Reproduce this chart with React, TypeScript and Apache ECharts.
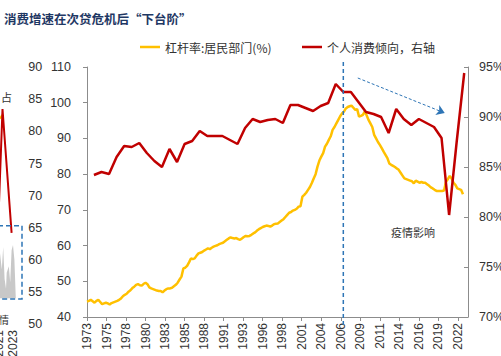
import React, { useEffect, useRef } from "react";
import * as echarts from "echarts";

// ---------- main chart data ----------
const START_YEAR = 1973;
const MONTH_COUNT = 606; // 1973-01 .. 2023-06
const months: string[] = Array.from({ length: MONTH_COUNT }, (_, i) =>
  `${START_YEAR + Math.floor(i / 12)}-${String((i % 12) + 1).padStart(2, "0")}`
);

// 杠杆率:居民部门(%) quarterly, 1973Q1 .. 2022Q4
const leverage: number[] = [
  44.3, 44.5, 44.8, 44.4, 44.0, 44.5, 44.8, 44.2, 43.6, 43.8, 44.0, 43.8,
  43.5, 43.9, 44.1, 44.3, 44.5, 44.8, 45.2, 45.8, 46.2, 46.5, 47.1, 47.5,
  48.1, 48.5, 49.0, 49.2, 48.9, 48.8, 49.3, 49.6, 49.2, 48.3, 48.0, 47.8,
  47.6, 47.4, 47.3, 47.3, 46.9, 47.4, 47.8, 48.0, 48.0, 48.2, 48.6, 49.0,
  49.6, 50.5, 51.3, 53.6, 53.8, 54.3, 55.3, 56.4, 56.2, 56.4, 57.2, 57.8,
  58.0, 58.2, 58.6, 58.9, 59.2, 59.0, 59.4, 59.7, 59.9, 60.1, 60.4, 60.6,
  60.8, 61.2, 61.6, 62.0, 62.3, 62.1, 62.0, 62.1, 61.8, 61.6, 62.0, 62.4,
  62.7, 62.6, 62.7, 63.0, 63.4, 63.7, 64.2, 64.6, 64.9, 65.2, 65.4, 65.6,
  65.5, 65.3, 65.6, 66.0, 66.1, 66.2, 66.6, 67.0, 67.4, 68.0, 68.6, 69.2,
  69.4, 69.8, 70.0, 70.3, 70.9, 71.0, 73.7, 74.2, 74.8, 75.6, 76.4, 77.5,
  78.8, 80.0, 82.1, 83.8, 84.9, 85.9, 87.7, 88.5, 89.6, 90.6, 92.4, 93.2,
  94.2, 95.2, 96.2, 97.0, 97.5, 98.4, 98.8, 99.0, 99.2, 98.6, 98.0, 98.2,
  96.1, 96.3, 96.6, 97.5, 96.5, 95.2, 94.2, 93.2, 91.0, 90.0, 89.0, 88.2,
  87.3, 86.3, 85.4, 84.5, 83.0, 82.6, 82.3, 82.0, 81.6, 81.2, 80.4, 79.6,
  78.8, 78.6, 78.4, 78.2, 78.0, 77.4, 78.2, 77.9, 77.6, 77.8, 77.6, 77.6,
  77.2, 76.8, 76.3, 76.0, 75.6, 75.3, 75.3, 75.3, 75.3, 75.4, 77.9, 78.6,
  79.5, 78.8, 77.6, 77.0, 76.0, 75.8, 75.6, 74.4,
];

// 个人消费倾向 (%), annual 1973 .. 2022
const propensity: number[] = [
  84.2, 84.5, 84.3, 86.0, 87.1, 87.0, 87.4, 86.4, 85.6, 85.0,
  86.8, 85.5, 87.3, 87.6, 88.6, 88.1, 88.1, 88.1, 87.7, 87.3,
  88.9, 89.8, 89.5, 89.7, 89.8, 89.4, 91.2, 91.2, 90.9, 90.6,
  91.1, 91.4, 93.3, 92.5, 92.5, 91.5, 90.5, 90.3, 90.0, 88.4,
  90.8, 89.8, 89.2, 89.8, 89.4, 89.0, 87.9, 80.2, 87.5, 94.4,
];

const LEG_LEVERAGE = "杠杆率:居民部门(%)";
const LEG_PROPENSITY = "个人消费倾向，右轴";
const TITLE = "消费增速在次贷危机后“下台阶”";
const NOTE = "疫情影响";
const CRISIS_MONTH = "2006-12";
const ARROW_FROM: [string, number] = ["2008-11", 93.9];
const ARROW_TO: [string, number] = ["2020-05", 90.4];

// ---------- fragment of the neighbouring chart (left edge) ----------
const prevRedYears = [2020.7, 2021.5, 2022.8];
const prevRedValues = [60, 83.5, 64.2];
const prevYellowYears = [2021.1, 2021.5];
const prevYellowValues = [82.0, 82.6];
const prevAreaYears = [2020.3, 2020.6, 2020.9, 2021.1, 2021.4, 2021.6, 2021.8, 2022.0, 2022.1, 2022.4, 2022.6, 2022.8, 2023.0, 2023.2, 2023.4];
const prevAreaValues = [54, 59, 61, 61.5, 58.5, 62, 57, 55.5, 58, 59, 56.5, 61.5, 62.3, 60, 54];
const prevBox: [number, number] = [53.9, 65.3];
const prevNoteTop = "占";
const prevNoteBottom = "情";

const AXIS_COLOR = "#8c8c8c";
const TEXT_COLOR = "#333333";
const NUM_FONT = "Liberation Sans, Arial, sans-serif";
const CJK_FONT = "'Noto Sans CJK SC', sans-serif";

export default function App() {
  const ref = useRef<HTMLDivElement>(null);

  useEffect(() => {
    if (!ref.current) return;
    const chart = echarts.init(ref.current, null, { renderer: "svg" });

    const leverageData = leverage.map((v, q) => [q * 3, v]);
    const propensityData = propensity.map((v, i) => [i * 12 + 11, v]);

    const option: any = {
      animation: false,
      backgroundColor: "#ffffff",
      title: {
        text: TITLE,
        left: -1,
        top: 7,
        textStyle: { fontSize: 12.5, fontWeight: "bold", color: "#1f3864", fontFamily: CJK_FONT },
      },
      legend: [
        {
          data: [LEG_LEVERAGE],
          left: 135,
          top: 36,
          icon: "rect",
          itemWidth: 20,
          itemHeight: 2.5,
          textStyle: { fontSize: 12, color: TEXT_COLOR, fontFamily: CJK_FONT },
          selectedMode: false,
        },
        {
          data: [LEG_PROPENSITY],
          left: 297,
          top: 36,
          icon: "rect",
          itemWidth: 20,
          itemHeight: 2.5,
          textStyle: { fontSize: 12, color: TEXT_COLOR, fontFamily: CJK_FONT },
          selectedMode: false,
        },
      ],
      grid: [
        { left: 87, right: 33, top: 67, bottom: 39, containLabel: false, outerBoundsMode: "none" },
        { left: -148, right: 483.8, top: 67.3, bottom: 32, containLabel: false, outerBoundsMode: "none" },
      ],
      xAxis: [
        {
          type: "category",
          gridIndex: 0,
          data: months,
          boundaryGap: false,
          axisLine: { lineStyle: { color: AXIS_COLOR, width: 1 } },
          axisTick: { interval: 30, length: 4, lineStyle: { color: AXIS_COLOR } },
          axisLabel: {
            interval: 30,
            rotate: 90,
            margin: 6,
            fontSize: 12,
            color: TEXT_COLOR,
            fontFamily: NUM_FONT,
            formatter: (v: string) => v.slice(0, 4),
          },
          splitLine: { show: false },
        },
        {
          type: "value",
          gridIndex: 1,
          min: 2000,
          max: 2023.6,
          interval: 1,
          axisLine: { show: false },
          axisTick: { show: false },
          splitLine: { show: false },
          axisLabel: {
            rotate: 90,
            margin: 6,
            fontSize: 12,
            color: TEXT_COLOR,
            fontFamily: NUM_FONT,
            formatter: (v: number) => (Number.isInteger(v) && v % 2 === 1 ? String(v) : ""),
          },
        },
      ],
      yAxis: [
        {
          type: "value",
          gridIndex: 0,
          position: "left",
          min: 40,
          max: 110,
          interval: 10,
          axisLine: { show: true, lineStyle: { color: AXIS_COLOR } },
          axisTick: { show: true, length: 4, lineStyle: { color: AXIS_COLOR } },
          axisLabel: { margin: 16, fontSize: 12.5, color: TEXT_COLOR, fontFamily: NUM_FONT },
          splitLine: { show: false },
        },
        {
          type: "value",
          gridIndex: 0,
          position: "right",
          min: 70,
          max: 95,
          interval: 5,
          axisLine: { show: true, lineStyle: { color: AXIS_COLOR } },
          axisTick: { show: true, inside: true, length: 4, lineStyle: { color: AXIS_COLOR } },
          axisLabel: { margin: 11, fontSize: 12.5, color: TEXT_COLOR, fontFamily: NUM_FONT, formatter: "{value}%" },
          splitLine: { show: false },
        },
        {
          type: "value",
          gridIndex: 1,
          position: "right",
          min: 50,
          max: 90,
          interval: 5,
          axisLine: { show: false },
          axisTick: { show: false },
          axisLabel: { margin: 11, fontSize: 12.5, color: TEXT_COLOR, fontFamily: NUM_FONT },
          splitLine: { show: false },
        },
      ],
      series: [
        {
          name: LEG_LEVERAGE,
          type: "line",
          xAxisIndex: 0,
          yAxisIndex: 0,
          data: leverageData,
          showSymbol: false,
          symbol: "none",
          lineStyle: { color: "#ffc000", width: 2.5 },
          itemStyle: { color: "#ffc000" },
          z: 3,
        },
        {
          name: LEG_PROPENSITY,
          type: "line",
          xAxisIndex: 0,
          yAxisIndex: 1,
          data: propensityData,
          showSymbol: false,
          symbol: "none",
          lineStyle: { color: "#c00000", width: 2.5 },
          itemStyle: { color: "#c00000" },
          z: 4,
          markLine: {
            silent: true,
            symbol: ["none", "arrow"],
            symbolSize: 8,
            label: { show: false },
            lineStyle: { color: "#2e75b6", type: [3, 2], width: 1 },
            data: [[{ coord: ARROW_FROM }, { coord: ARROW_TO }]],
          },
        },
        {
          type: "line",
          xAxisIndex: 1,
          yAxisIndex: 2,
          data: prevAreaYears.map((y, i) => [y, prevAreaValues[i]]),
          showSymbol: false,
          symbol: "none",
          lineStyle: { width: 0, color: "#c8c8c8" },
          areaStyle: { color: "#c8c8c8", opacity: 1, origin: 54 },
          z: 1,
        },
        {
          type: "line",
          xAxisIndex: 1,
          yAxisIndex: 2,
          data: prevYellowYears.map((y, i) => [y, prevYellowValues[i]]),
          showSymbol: false,
          symbol: "none",
          lineStyle: { width: 2, color: "#ffc000" },
          z: 2,
        },
        {
          type: "line",
          xAxisIndex: 1,
          yAxisIndex: 2,
          data: prevRedYears.map((y, i) => [y, prevRedValues[i]]),
          showSymbol: false,
          symbol: "none",
          lineStyle: { width: 2, color: "#c00000" },
          z: 3,
        },
      ],
    };

    chart.setOption(option);

    const xCrisis = chart.convertToPixel({ xAxisIndex: 0 }, CRISIS_MONTH) as number;
    const boxTop = chart.convertToPixel({ yAxisIndex: 2 }, prevBox[1]) as number;
    const boxBottom = chart.convertToPixel({ yAxisIndex: 2 }, prevBox[0]) as number;
    const yTop = chart.convertToPixel({ yAxisIndex: 0 }, 110) as number;
    const yBottom = chart.convertToPixel({ yAxisIndex: 0 }, 40) as number;

    chart.setOption({
      graphic: [
        {
          type: "line",
          shape: { x1: xCrisis, y1: yTop - 5, x2: xCrisis, y2: yBottom + 10 },
          style: { stroke: "#2e75b6", lineWidth: 1.5, lineDash: [4, 3] },
          z: 10,
        },
        {
          type: "rect",
          shape: { x: -10, y: boxTop, width: 32, height: boxBottom - boxTop },
          style: { fill: "none", stroke: "#2e75b6", lineWidth: 1.5, lineDash: [5, 3] },
          z: 10,
        },
        {
          type: "text",
          x: 413,
          y: 232,
          style: { text: NOTE, fontSize: 11, fill: TEXT_COLOR, fontFamily: CJK_FONT, align: "center", verticalAlign: "middle" },
        },
        {
          type: "text",
          x: 12,
          y: 97,
          style: { text: prevNoteTop, fontSize: 11, fill: TEXT_COLOR, fontFamily: CJK_FONT, align: "right", verticalAlign: "middle" },
        },
        {
          type: "text",
          x: 9,
          y: 319,
          style: { text: prevNoteBottom, fontSize: 10, fill: TEXT_COLOR, fontFamily: CJK_FONT, align: "right", verticalAlign: "middle" },
        },
      ],
    });

    return () => chart.dispose();
  }, []);

  return (
    <div
      ref={ref}
      style={{ position: "fixed", left: 0, top: 0, width: 501, height: 356, background: "#fff" }}
    />
  );
}
